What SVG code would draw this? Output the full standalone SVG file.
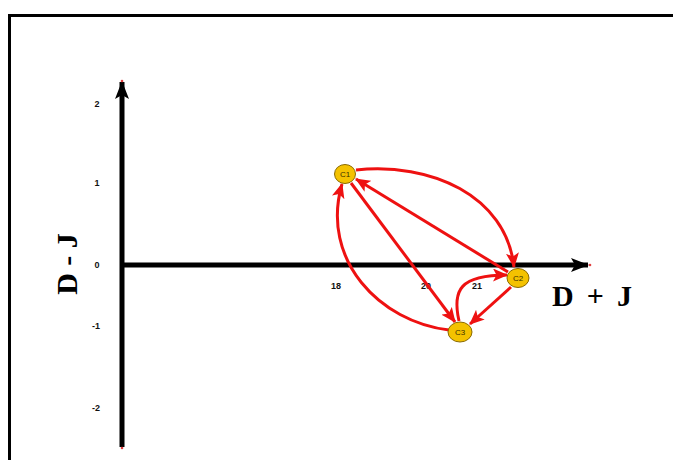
<svg xmlns="http://www.w3.org/2000/svg" width="673" height="460" viewBox="0 0 673 460">
<defs>
<marker id="ar" markerUnits="userSpaceOnUse" markerWidth="15" markerHeight="13" viewBox="0 0 15 13" refX="14" refY="6.5" orient="auto">
<path d="M0,0 L15,6.5 L0,13 L3.5,6.5 Z" fill="#ee1111"/>
</marker>
<marker id="ax" markerUnits="userSpaceOnUse" markerWidth="18" markerHeight="14" viewBox="0 0 18 14" refX="17" refY="7" orient="auto">
<path d="M0,0 L18,7 L0,14 L4,7 Z" fill="#000"/>
</marker>
<style>
.edge{fill:none;stroke:#ee1111;stroke-width:3;marker-end:url(#ar)}
.node ellipse{fill:#f4c200;stroke:#8a6a00;stroke-width:1}
.node text{font-family:"Liberation Sans",Arial,sans-serif;font-size:8px;fill:#3a3000;text-anchor:middle}
.tick{font-family:"Liberation Sans",Arial,sans-serif;font-size:9px;font-weight:bold;fill:#111;text-anchor:middle}
.title{font-family:"Liberation Serif","Times New Roman",serif;font-size:30px;font-weight:bold;fill:#000}
</style>
</defs>
<rect width="673" height="460" fill="#fff"/>
<path d="M9.5,470 V15.5 H680" fill="none" stroke="#000" stroke-width="3"/>
<g id="axes">
<line x1="122" y1="447" x2="122" y2="82" stroke="#000" stroke-width="5" marker-end="url(#ax)"/>
<line x1="124" y1="265" x2="588" y2="265" stroke="#000" stroke-width="5" marker-end="url(#ax)"/>
<circle cx="122" cy="81" r="1.3" fill="#e04040"/>
<circle cx="122" cy="448" r="1.3" fill="#e04040"/>
<circle cx="590" cy="265" r="1.3" fill="#e04040"/>
</g>
<g id="ticks">
<text class="tick" x="97" y="107">2</text>
<text class="tick" x="97" y="186">1</text>
<text class="tick" x="97" y="268">0</text>
<text class="tick" x="96" y="329">-1</text>
<text class="tick" x="96" y="411">-2</text>
<text class="tick" x="336" y="289">18</text>
<text class="tick" x="426" y="289">20</text>
<text class="tick" x="477" y="289">21</text>
</g>
<text class="title" x="552" y="306" textLength="80" lengthAdjust="spacing">D + J</text>
<text class="title" transform="translate(77,264) rotate(-90)" text-anchor="middle">D - J</text>
<g id="connectors">
<path class="edge" d="M356,170 C430,162 506,195 514,267"/>
<path class="edge" d="M508,272 L356,179"/>
<path class="edge" d="M351,183 L455,322"/>
<path class="edge" d="M449,330 C380,322 320,260 342,184"/>
<path class="edge" d="M459,321 C452,290 460,275 507,275"/>
<path class="edge" d="M511,287 L470,324"/>
</g>
<g id="C1" class="node"><ellipse cx="345" cy="174" rx="10.5" ry="9.5"/><text x="345" y="177">C1</text></g>
<g id="C2" class="node"><ellipse cx="518" cy="278" rx="11" ry="9.5"/><text x="518" y="281">C2</text></g>
<g id="C3" class="node"><ellipse cx="460" cy="332" rx="12" ry="10"/><text x="460" y="335">C3</text></g>
</svg>
